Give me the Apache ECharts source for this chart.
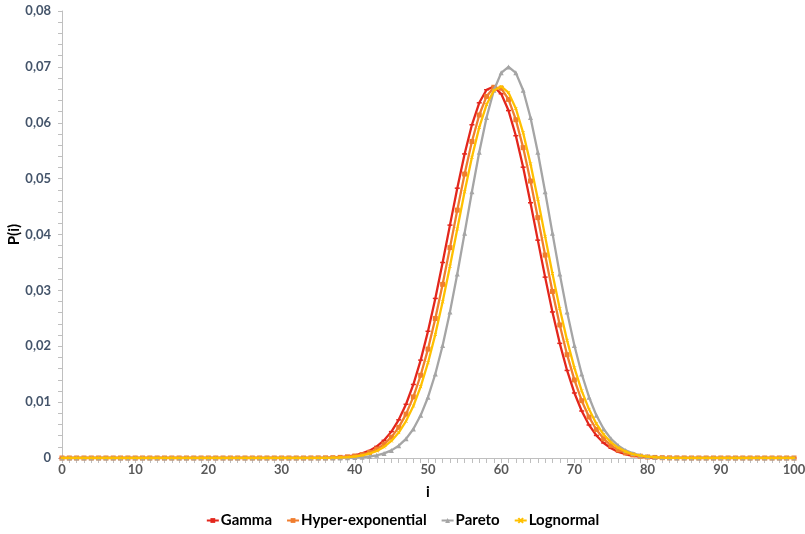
<!DOCTYPE html>
<html>
<head>
<meta charset="utf-8">
<script src="https://cdn.jsdelivr.net/npm/echarts@6/dist/echarts.min.js"></script>
<style>
html,body{margin:0;padding:0;background:#fff;}
#chart{width:805px;height:534px;}
</style>
</head>
<body>
<div id="chart"></div>
<script>
// x values i = 0..100 (index of each array)
const seriesNames = ["Gamma", "Hyper-exponential", "Pareto", "Lognormal"];
const yTickLabels = ["0", "0,01", "0,02", "0,03", "0,04", "0,05", "0,06", "0,07", "0,08"];
const xTickLabels = ["0", "10", "20", "30", "40", "50", "60", "70", "80", "90", "100"];

const gamma = [
  0,0,0,0,0,0,0,0,0,0,
  0,0,0,0,0,0,0,0,0,0,
  0,0,0,0,0,0,0,0,0,0,
  0,0,0,0,0.00001,0.00003,0.00005,0.00009,0.00016,0.00029,
  0.00049,0.00082,0.00132,0.00208,0.00317,0.00472,0.00683,0.00962,0.01316,0.01752,
  0.02268,0.02856,0.03499,0.04168,0.04829,0.05442,0.05964,0.06357,0.06591,0.06646,
  0.06518,0.06218,0.05768,0.05205,0.04568,0.03899,0.03237,0.02614,0.02052,0.01567,
  0.01164,0.00841,0.00591,0.00404,0.00269,0.00174,0.00109,0.00067,0.00040,0.00023,
  0.00013,0.00007,0.00004,0.00002,0.00001,0,0,0,0,0,
  0,0,0,0,0,0,0,0,0,0,
  0
];
const hyperExp = [
  0,0,0,0,0,0,0,0,0,0,
  0,0,0,0,0,0,0,0,0,0,
  0,0,0,0,0,0,0,0,0,0,
  0,0,0,0,0.00001,0.00002,0.00003,0.00006,0.00011,0.00021,
  0.00036,0.00060,0.00099,0.00159,0.00247,0.00373,0.00549,0.00786,0.01094,0.01481,
  0.01949,0.02496,0.03108,0.03765,0.04436,0.05082,0.05664,0.06139,0.06471,0.06635,
  0.06617,0.06418,0.06054,0.05555,0.04957,0.04302,0.03632,0.02981,0.02381,0.01849,
  0.01397,0.01026,0.00733,0.00510,0.00344,0.00226,0.00145,0.00090,0.00055,0.00032,
  0.00018,0.00010,0.00006,0.00003,0.00002,0.00001,0,0,0,0,
  0,0,0,0,0,0,0,0,0,0,
  0
];
const pareto = [
  0,0,0,0,0,0,0,0,0,0,
  0,0,0,0,0,0,0,0,0,0,
  0,0,0,0,0,0,0,0,0,0,
  0,0,0,0,0,0,0,0.00001,0.00002,0.00004,
  0.00008,0.00015,0.00027,0.00048,0.00082,0.00136,0.00220,0.00343,0.00520,0.00764,
  0.01088,0.01503,0.02013,0.02615,0.03294,0.04024,0.04765,0.05473,0.06095,0.06582,
  0.06893,0.07000,0.06893,0.06582,0.06095,0.05473,0.04765,0.04024,0.03294,0.02615,
  0.02013,0.01503,0.01088,0.00764,0.00520,0.00343,0.00220,0.00136,0.00082,0.00048,
  0.00027,0.00015,0.00008,0.00004,0.00002,0.00001,0,0,0,0,
  0,0,0,0,0,0,0,0,0,0,
  0
];
const lognormal = [
  0,0,0,0,0,0,0,0,0,0,
  0,0,0,0,0,0,0,0,0,0,
  0,0,0,0,0,0,0,0,0,0,
  0,0,0,0,0,0.00001,0.00002,0.00005,0.00009,0.00015,
  0.00027,0.00047,0.00078,0.00126,0.00199,0.00305,0.00455,0.00660,0.00931,0.01277,
  0.01705,0.02213,0.02795,0.03433,0.04100,0.04764,0.05383,0.05917,0.06325,0.06576,
  0.06649,0.06539,0.06255,0.05819,0.05265,0.04634,0.03966,0.03302,0.02673,0.02105,
  0.01613,0.01202,0.00871,0.00613,0.00420,0.00280,0.00182,0.00115,0.00070,0.00042,
  0.00024,0.00014,0.00008,0.00004,0.00002,0.00001,0,0,0,0,
  0,0,0,0,0,0,0,0,0,0,
  0
];

const toPairs = arr => arr.map((v, i) => [i, v]);
const FONT = "Lato, 'Open Sans', sans-serif";
const crossPath = 'path://M0,0L10,10M10,0L0,10';

const chart = echarts.init(document.getElementById('chart'), null, {renderer: 'canvas'});

const mk = (name, data, color, symbol, symbolSize, z) => ({
  name, type: 'line', data: toPairs(data),
  symbol, symbolSize, showSymbol: true, z,
  lineStyle: {color, width: 2.3},
  itemStyle: {color, borderColor: color, borderWidth: symbol === crossPath ? 1 : 0},
  emphasis: {disabled: true},
  animation: false
});

chart.setOption({
  animation: false,
  textStyle: {fontFamily: FONT},
  grid: {left: 62, right: 11, top: 11, bottom: 76, containLabel: false, outerBoundsMode: 'none'},
  xAxis: {
    type: 'value', min: 0, max: 100, interval: 10,
    name: 'i', nameLocation: 'middle', nameGap: 27, nameMoveOverlap: false,
    nameTextStyle: {fontFamily: FONT, fontWeight: 'bold', fontSize: 15, color: '#000'},
    axisLine: {show: true, lineStyle: {color: '#BFBFBF', width: 1}},
    axisTick: {show: true, length: 5, lineStyle: {color: '#BFBFBF'}},
    minorTick: {show: true, splitNumber: 10, length: 5, lineStyle: {color: '#BFBFBF'}},
    splitLine: {show: false},
    axisLabel: {
      margin: 5, fontFamily: FONT, fontWeight: 'bold', fontSize: 13, color: '#595959',
      formatter: v => xTickLabels[Math.round(v / 10)]
    }
  },
  yAxis: {
    type: 'value', min: 0, max: 0.08, interval: 0.01,
    name: 'P(i)', nameLocation: 'middle', nameGap: 40, nameRotate: 90, nameMoveOverlap: false,
    nameTextStyle: {fontFamily: FONT, fontWeight: 'bold', fontSize: 15, color: '#000'},
    axisLine: {show: true, lineStyle: {color: '#BFBFBF', width: 1}},
    axisTick: {show: true, length: 4, lineStyle: {color: '#BFBFBF'}},
    minorTick: {show: true, splitNumber: 5, length: 4, lineStyle: {color: '#BFBFBF'}},
    splitLine: {show: false},
    axisLabel: {
      margin: 11, fontFamily: FONT, fontWeight: 'bold', fontSize: 13, color: '#44546A',
      formatter: v => yTickLabels[Math.round(v / 0.01)]
    }
  },
  legend: {
    bottom: 1, left: 'center', itemWidth: 12, itemHeight: 6, itemGap: 14,
    textStyle: {fontFamily: FONT, fontWeight: 'bold', fontSize: 15, color: '#000', padding: [0,0,0,-3]},
    data: seriesNames
  },
  series: [
    mk(seriesNames[0], gamma, '#E3261C', 'rect', [5, 1.5], 2),
    mk(seriesNames[1], hyperExp, '#F07D2E', 'rect', 5, 3),
    mk(seriesNames[2], pareto, '#A5A5A5', 'triangle', 5, 4),
    mk(seriesNames[3], lognormal, '#FFC000', crossPath, 3, 5)
  ]
});
</script>
</body>
</html>
